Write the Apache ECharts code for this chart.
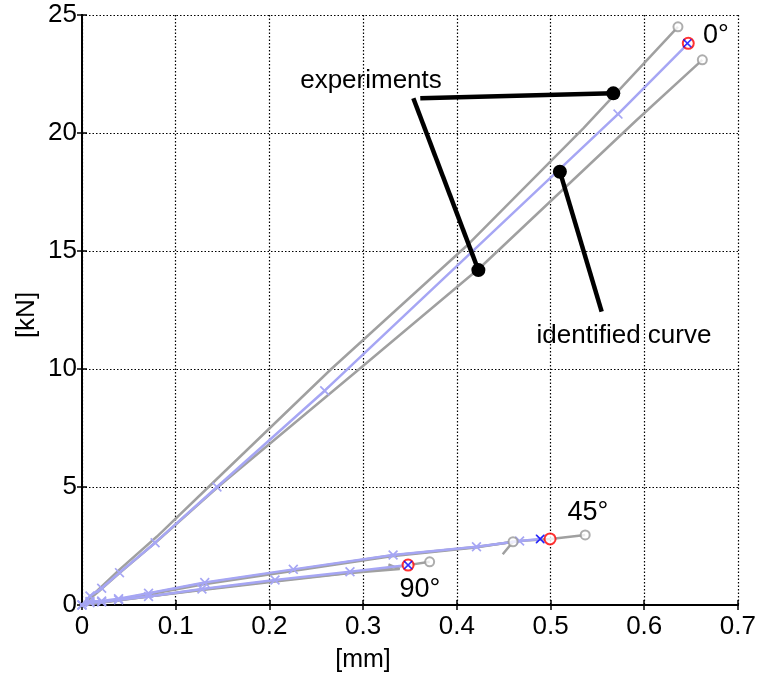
<!DOCTYPE html>
<html>
<head>
<meta charset="utf-8">
<script src="https://cdn.jsdelivr.net/npm/echarts@6/dist/echarts.min.js"></script>
<style>html,body{margin:0;padding:0;background:#fff;}#chart{width:759px;height:678px;}</style>
</head>
<body>
<div id="chart"></div>
<script>
// ---- data ----
const xTicks = [0, 0.1, 0.2, 0.3, 0.4, 0.5, 0.6, 0.7];
const yTicks = [0, 5, 10, 15, 20, 25];

// experiments (grey)
const exp0a = [[0,0],[0.02,0.75],[0.04,1.5],[0.08,2.9],[0.135,5],[0.266,10],[0.41,15.2],[0.535,20.2],[0.636,24.5]];
const exp0b = [[0,0],[0.02,0.65],[0.04,1.35],[0.08,2.7],[0.145,5],[0.296,10],[0.425,14.3],[0.592,20.55],[0.662,23.1]];
const exp45a = [[0,0],[0.04,0.22],[0.13,0.88],[0.23,1.47],[0.33,2.07],[0.42,2.44],[0.46,2.68],[0.449,2.15]];
const exp45b = [[0,0],[0.04,0.24],[0.13,0.92],[0.23,1.5],[0.33,2.1],[0.42,2.46],[0.47,2.72],[0.5,2.8],[0.537,2.97]];
const exp90a = [[0,0],[0.04,0.2],[0.128,0.66],[0.206,1.03],[0.286,1.37],[0.33,1.58],[0.348,1.69],[0.371,1.83]];
const exp90b = [[0,0],[0.04,0.21],[0.128,0.64],[0.206,1.0],[0.286,1.36],[0.339,1.52],[0.327,1.72]];
const expEnds = [[0.636,24.5],[0.662,23.1],[0.46,2.68],[0.537,2.97],[0.371,1.83]];

// identified curves (light blue with x markers)
const id0 = [[0,0],[0.0085,0.38],[0.021,0.71],[0.04,1.37],[0.078,2.64],[0.144,5.0],[0.259,9.08],[0.572,20.8],[0.647,23.8]];
const id45 = [[0,0],[0.0085,0.15],[0.021,0.17],[0.039,0.27],[0.071,0.5],[0.131,0.95],[0.2255,1.51],[0.332,2.12],[0.421,2.47],[0.467,2.71],[0.489,2.8]];
const id90 = [[0,0],[0.0085,0.1],[0.021,0.13],[0.039,0.22],[0.071,0.36],[0.128,0.68],[0.206,1.06],[0.286,1.41],[0.348,1.69]];

// end points
const targetPts = [[0.647,23.8],[0.4995,2.8],[0.348,1.69]];
const finalPts = [[0.646,23.8],[0.489,2.8],[0.348,1.69]];

// annotation pointer lines (start, end-with-dot)
const annoExp1 = [[0.361,21.47],[0.567,21.68]];
const annoExp2 = [[0.3536,21.47],[0.423,14.19]];
const annoId = [[0.5546,12.43],[0.510,18.36]];

const FONT = '"Liberation Sans", Arial, Helvetica, sans-serif';
const GREY = '#a0a0a0';
const BLUE = '#a6a6f4';
const XPATH = 'path://M0,1.2L1.2,0L5,3.8L8.8,0L10,1.2L6.2,5L10,8.8L8.8,10L5,6.2L1.2,10L0,8.8L3.8,5Z';

function greyLine(d) {
  return {type:'line', data:d, symbol:'none', lineStyle:{color:GREY, width:2.5}, z:2, animation:false, silent:true};
}
function idLine(d) {
  return {type:'line', data:d, symbol:XPATH, symbolSize:10, showAllSymbol:true,
    itemStyle:{color:BLUE}, lineStyle:{color:BLUE, width:2.5}, z:3, animation:false, silent:true};
}
function anno(d) {
  return {type:'line', data:[{value:d[0], symbol:'none'},{value:d[1], symbol:'circle', symbolSize:14}],
    itemStyle:{color:'#000'}, lineStyle:{color:'#000', width:4.5}, z:6, animation:false, silent:true};
}

const chart = echarts.init(document.getElementById('chart'));
const axisCommon = {
  type:'value', axisLine:{show:true, lineStyle:{color:'#000', width:2}},
  axisTick:{show:true, inside:true, length:5, lineStyle:{color:'#000', width:1.5}},
};
chart.setOption({
  backgroundColor:'#fff',
  animation:false,
  grid:{left:82, right:21, top:15, bottom:73, show:false},
  xAxis:[
    Object.assign({}, axisCommon, {min:0, max:0.7, interval:0.1, position:'bottom',
      axisLabel:{fontSize:26, color:'#000', fontFamily:FONT, margin:9,
        formatter:v => (Math.abs(v) < 1e-9 ? '0' : v.toFixed(1))},
      splitLine:{show:true, lineStyle:{color:'#000', type:[1.5,2], width:1.2}}}),
    Object.assign({}, axisCommon, {min:0, max:0.7, interval:0.1, position:'top',
      axisLabel:{show:false}, splitLine:{show:false}})
  ],
  yAxis:[
    Object.assign({}, axisCommon, {min:0, max:25, interval:5, position:'left',
      axisLabel:{fontSize:26, color:'#000', fontFamily:FONT, margin:5},
      splitLine:{show:true, lineStyle:{color:'#000', type:[1.5,2], width:1.2}}}),
    Object.assign({}, axisCommon, {min:0, max:25, interval:5, position:'right',
      axisLabel:{show:false}, splitLine:{show:false}})
  ],
  series:[
    greyLine(exp0a), greyLine(exp0b), greyLine(exp45a), greyLine(exp45b), greyLine(exp90a), greyLine(exp90b),
    {type:'scatter', data:expEnds, symbol:'emptyCircle', symbolSize:9,
      itemStyle:{color:'#999', borderColor:'#999', borderWidth:2}, z:4, animation:false, silent:true},
    idLine(id0), idLine(id45), idLine(id90),
    {type:'scatter', data:targetPts, symbol:'emptyCircle', symbolSize:11,
      itemStyle:{color:'#ff0000', borderColor:'#ff0000', borderWidth:2.5}, z:5, animation:false, silent:true},
    {type:'scatter', data:finalPts, symbol:XPATH, symbolSize:9,
      itemStyle:{color:'#0000ff'}, z:6, animation:false, silent:true},
    anno(annoExp1), anno(annoExp2), anno(annoId)
  ],
  graphic:[
    {type:'text', x:371, y:81, style:{text:'experiments', fontSize:26, fontFamily:FONT, fill:'#000', align:'center', verticalAlign:'middle'}, z:10},
    {type:'text', x:624, y:336, style:{text:'identified curve', fontSize:26, fontFamily:FONT, fill:'#000', align:'center', verticalAlign:'middle'}, z:10},
    {type:'text', x:716, y:36, style:{text:'0°', fontSize:27, fontFamily:FONT, fill:'#000', align:'center', verticalAlign:'middle'}, z:10},
    {type:'text', x:588, y:513, style:{text:'45°', fontSize:27, fontFamily:FONT, fill:'#000', align:'center', verticalAlign:'middle'}, z:10},
    {type:'text', x:420, y:590, style:{text:'90°', fontSize:27, fontFamily:FONT, fill:'#000', align:'center', verticalAlign:'middle'}, z:10},
    {type:'text', x:363, y:660, style:{text:'[mm]', fontSize:25, fontFamily:FONT, fill:'#000', align:'center', verticalAlign:'middle'}, z:10},
    {type:'text', x:27, y:315, rotation:Math.PI/2, style:{text:'[kN]', fontSize:26, fontFamily:FONT, fill:'#000', align:'center', verticalAlign:'middle'}, z:10}
  ]
});
</script>
</body>
</html>
